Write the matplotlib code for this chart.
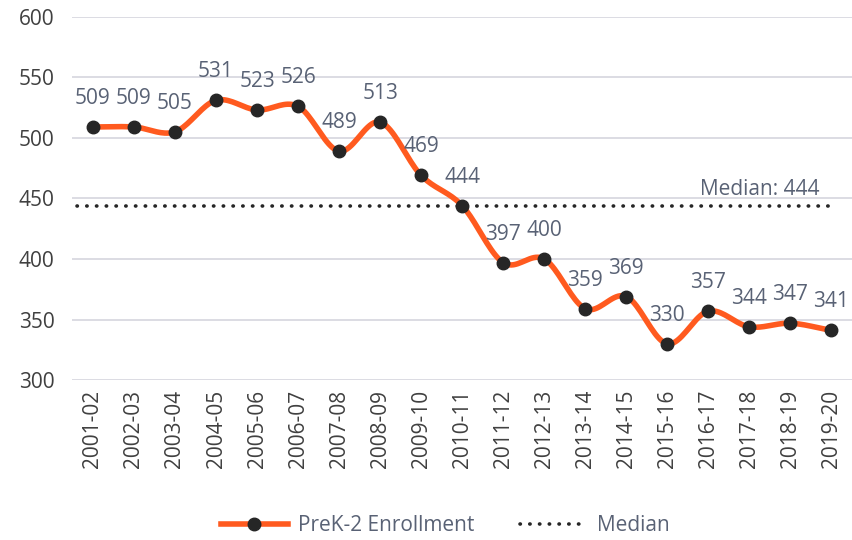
import numpy as np
import matplotlib
matplotlib.use('Agg')
import matplotlib.pyplot as plt
from matplotlib.lines import Line2D

plt.rcParams['font.family'] = ['Open Sans', 'DejaVu Sans']

years = ['2001-02', '2002-03', '2003-04', '2004-05', '2005-06', '2006-07', '2007-08',
         '2008-09', '2009-10', '2010-11', '2011-12', '2012-13', '2013-14', '2014-15',
         '2015-16', '2016-17', '2017-18', '2018-19', '2019-20']
enrollment = [509, 509, 505, 531, 523, 526, 489, 513, 469, 444, 397, 400, 359, 369,
              330, 357, 344, 347, 341]
median = 444

orange = '#ff5a1f'
label_col = '#596275'
tick_col = '#404040'
fs = 15
dots = (0, (0.1, 2.6))


# Catmull-Rom smoothing for the curve (like Excel's smoothed line)
def smooth(x, y, n=20):
    x = np.asarray(x, float)
    y = np.asarray(y, float)
    px = np.concatenate([[2 * x[0] - x[1]], x, [2 * x[-1] - x[-2]]])
    py = np.concatenate([[2 * y[0] - y[1]], y, [2 * y[-1] - y[-2]]])
    xs, ys = [], []
    t = np.linspace(0, 1, n, endpoint=False)
    for i in range(1, len(px) - 2):
        for p, out in ((px, xs), (py, ys)):
            p0, p1, p2, p3 = p[i - 1], p[i], p[i + 1], p[i + 2]
            out.extend(0.5 * ((2 * p1) + (-p0 + p2) * t
                              + (2 * p0 - 5 * p1 + 4 * p2 - p3) * t ** 2
                              + (-p0 + 3 * p1 - 3 * p2 + p3) * t ** 3))
    xs.append(x[-1])
    ys.append(y[-1])
    return np.array(xs), np.array(ys)


fig = plt.figure(figsize=(8.52, 5.4), dpi=100)
ax = fig.add_axes([0.085, 0.296, 0.915, 0.673])

xi = np.arange(len(years))
sx, sy = smooth(xi, enrollment)
ax.plot(sx, sy, color=orange, lw=4.0, solid_capstyle='round', zorder=3)
ax.plot(xi, enrollment, 'o', color='#262626', ms=9, zorder=4)
ax.plot([-0.4, len(years) - 1], [median, median], color='#262626',
        lw=2.6, ls=dots, dash_capstyle='round', zorder=2)

for x, v in zip(xi, enrollment):
    ax.annotate(str(v), (x, v), xytext=(0, 13), textcoords='offset points',
                ha='center', va='bottom', fontsize=fs, color=label_col)

ax.text(17.7, median + 5, f'Median: {median}', ha='right', va='bottom',
        fontsize=fs, color=label_col)

ax.set_ylim(300, 600)
ax.set_yticks(range(300, 601, 50))
ax.set_xlim(-0.5, 18.5)
ax.set_xticks(xi)
ax.set_xticklabels(years, rotation=90, fontsize=fs, color=tick_col)
ax.tick_params(axis='y', labelsize=fs, labelcolor=tick_col, length=0, pad=13)
ax.tick_params(axis='x', length=0, pad=7)
ax.grid(axis='y', color='#d9d9e0', lw=1.3)
ax.set_axisbelow(True)
for s in ax.spines.values():
    s.set_visible(False)

handles = [Line2D([0], [0], color=orange, lw=4.0, marker='o', ms=9,
                  markerfacecolor='#262626', markeredgecolor='#262626'),
           Line2D([0], [0], color='#262626', lw=2.6, ls=dots,
                  dash_capstyle='round')]
fig.legend(handles, ['PreK-2 Enrollment', 'Median'], loc='center',
           bbox_to_anchor=(0.523, 0.027), ncol=2, frameon=False, fontsize=fs,
           labelcolor=label_col, handlelength=3.2, handletextpad=0.5,
           columnspacing=2.2)

fig.savefig('out.png', dpi=100)
